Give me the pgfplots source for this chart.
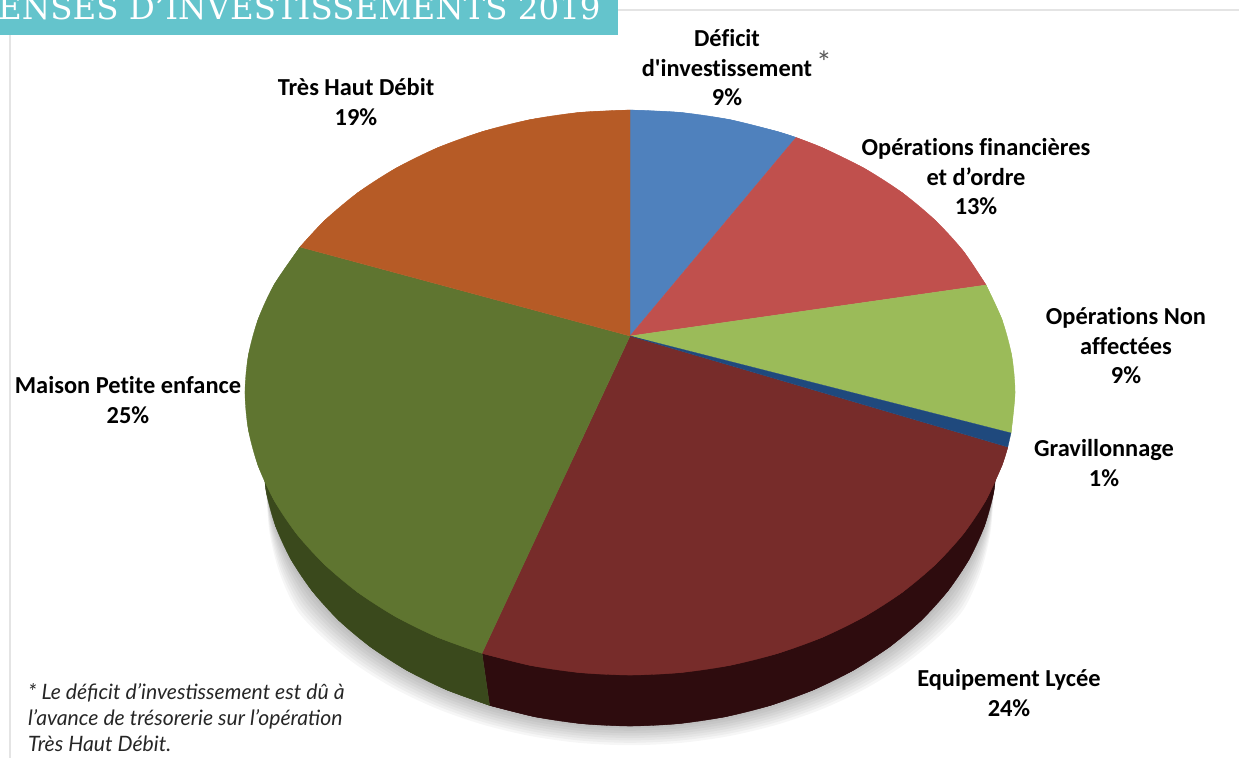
\documentclass[border=0pt]{standalone}
\usepackage{pgfplots}
\pgfplotsset{compat=1.18}
\usepackage{pgfplotstable}
\usepackage{fontspec}
\newfontfamily\labelfont{Carlito}[Ligatures=NoCommon]
\newfontfamily\notefont{Lato}
\newfontfamily\titlefont{DejaVu Serif}

\definecolor{teal1}{HTML}{64C4CC}
\definecolor{rule1}{HTML}{E4E4E4}
\definecolor{deficit}{HTML}{4F81BD}
\definecolor{operfin}{HTML}{C0504D}
\definecolor{nonaff}{HTML}{9BBB59}
\definecolor{gravil}{HTML}{1F497D}
\definecolor{lycee}{HTML}{772C2A}
\definecolor{maison}{HTML}{5F7530}
\definecolor{thd}{HTML}{B65B26}
\definecolor{lyceeside}{HTML}{2E0C0E}
\definecolor{maisonside}{HTML}{3A491C}

% all in picture pixels; first row of a slice table = its apex, the rest = its rim
\pgfplotstableread{
x y
630 336
630 110
680.2 112.4
729.6 119.6
777.3 131.5
796 137.5
}\tDeficit
\pgfplotstableread{
x y
630 336
796 137.5
822.5 147.8
864.4 168.4
902.2 192.7
935.4 220.5
963.4 251.2
986 285
}\tOperfin
\pgfplotstableread{
x y
630 336
986 285
1001.9 319.4
1011.7 355.6
1015 392.5
1011 433
}\tNonaff
\pgfplotstableread{
x y
630 336
1007.8 447
1001.9 465.6
985.7 500.6
963.4 533.8
935.4 564.5
902.2 592.3
864.4 616.6
822.5 637.2
777.3 653.5
729.6 665.4
680.2 672.6
630 675
579.8 672.6
530.4 665.4
482 653.3
}\tLycee
\pgfplotstableread{
x y
630 336
482 653.3
437.5 637.2
395.6 616.6
357.8 592.3
324.6 564.5
296.6 533.8
274.3 500.6
258.1 465.6
248.3 429.4
245 392.5
248.3 355.6
258.1 319.4
274.3 284.4
300 247
}\tMaison
\pgfplotstableread{
x y
630 336
300 247
324.6 220.5
357.8 192.7
395.6 168.4
437.5 147.8
482.7 131.5
530.4 119.6
579.8 112.4
630 110
}\tThd
% side wall
\pgfplotstableread{
x y
482 653
997 456
993.9 491.2
984.5 525.9
969.1 559.3
947.8 591
921.2 620.4
889.5 646.9
853.4 670.2
813.5 689.8
770.4 705.4
725 716.8
677.9 723.7
630 726
582.1 723.7
535 716.8
489.6 705.4
}\tLyceeSide
\pgfplotstableread{
x y
482 653
489.6 705.4
446.5 689.8
406.6 670.2
370.5 646.9
338.8 620.4
312.2 591
290.9 559.3
275.5 525.9
266.1 491.2
263 456
}\tMaisonSide
% lower rim again for the shadow (w = how far the shadow reaches out)
\pgfplotstableread{
x y w
997 456 0
993.9 491.2 0
984.5 525.9 0.35
969.1 559.3 0.7
947.8 591 1
921.2 620.4 1
889.5 646.9 1
853.4 670.2 1
813.5 689.8 1
770.4 705.4 1
725 716.8 1
677.9 723.7 1
630 726 1
582.1 723.7 1
535 716.8 1
489.6 705.4 1
446.5 689.8 1
406.6 670.2 1
370.5 646.9 1
338.8 620.4 1
312.2 591 1
290.9 559.3 0.7
275.5 525.9 0.35
266.1 491.2 0
263 456 0
}\lowerrim

\newcommand{\lab}{\labelfont\bfseries\fontsize{24.4}{29.5}\selectfont}
% smooth rim first, then the flat polygon with the apex over it
\newcommand{\slice}[2]{%
  \addplot[smooth, fill=#2, draw=#2, line width=0.3pt] table[skip coords between index={0}{1}] {#1};
  \addplot[fill=#2, draw=#2, line width=0.3pt] table {#1} --cycle;
}

\begin{document}
\begin{tikzpicture}
\path[use as bounding box] (0,0) rectangle (1239pt,758pt);
\begin{axis}[
    at={(0,0)}, anchor=south west,
    scale only axis, width=1239pt, height=758pt,
    xmin=0, xmax=1239, ymin=0, ymax=758,
    y dir=reverse,
    hide axis, clip=false,
]
% frame
\draw[rule1, line width=1.6pt] (axis cs:618,10) -- (axis cs:1239,10);
\draw[rule1, line width=1.6pt] (axis cs:10,35) -- (axis cs:10,758);
\fill[teal1] (axis cs:0,0) rectangle (axis cs:618,35);
\node[anchor=base west, text=white, inner sep=0pt] at (axis cs:-2,19)
  {\titlefont\fontsize{32.5}{32.5}\selectfont ENSES D’INVESTISSEMENTS 2019};

% soft shadow under the pie
\pgfplotsinvokeforeach{1,...,8}{
  \addplot[smooth, fill=black, fill opacity=0.035, draw=none]
    table[x expr={630+(\thisrow{x}-630)*(1+#1*0.006*\thisrow{w})}, y expr={\thisrow{y}+#1*2.4*\thisrow{w}}] {\lowerrim};
}

\slice{\tLyceeSide}{lyceeside}
\slice{\tMaisonSide}{maisonside}

\slice{\tDeficit}{deficit}
\slice{\tOperfin}{operfin}
\slice{\tNonaff}{nonaff}
\slice{\tLycee}{lycee}
\addplot[fill=gravil, draw=gravil, line width=0.3pt] coordinates {(630,336) (1011,433) (1007.8,447)} --cycle;
\slice{\tMaison}{maison}
\slice{\tThd}{thd}

% labels
\node[align=center, font=\lab, inner sep=0pt] at (axis cs:727,68) {Déficit\\d'investissement\\9\%};
\node[text=black!65, inner sep=0pt, font=\notefont\fontsize{30}{30}\selectfont] at (axis cs:824,62) {*};
\node[align=center, font=\lab, inner sep=0pt] at (axis cs:976,177) {Opérations financières\\et d’ordre\\13\%};
\node[align=center, font=\lab, inner sep=0pt] at (axis cs:1126,346) {Opérations Non\\affectées\\9\%};
\node[align=center, font=\lab, inner sep=0pt] at (axis cs:1104,463) {Gravillonnage\\1\%};
\node[align=center, font=\lab, inner sep=0pt] at (axis cs:1009,693) {Equipement Lycée\\24\%};
\node[align=center, font=\lab, inner sep=0pt] at (axis cs:128,400) {Maison Petite enfance\\25\%};
\node[align=center, font=\lab, inner sep=0pt] at (axis cs:356,102) {Très Haut Débit\\19\%};

% footnote
\node[align=left, anchor=west, inner sep=0pt, text=black!85,
      font=\notefont\itshape\fontsize{21.2}{26}\selectfont] at (axis cs:28,718)
  {* Le déficit d’investissement est dû à\\l’avance de trésorerie sur l’opération\\Très Haut Débit.};
\end{axis}
\end{tikzpicture}
\end{document}
